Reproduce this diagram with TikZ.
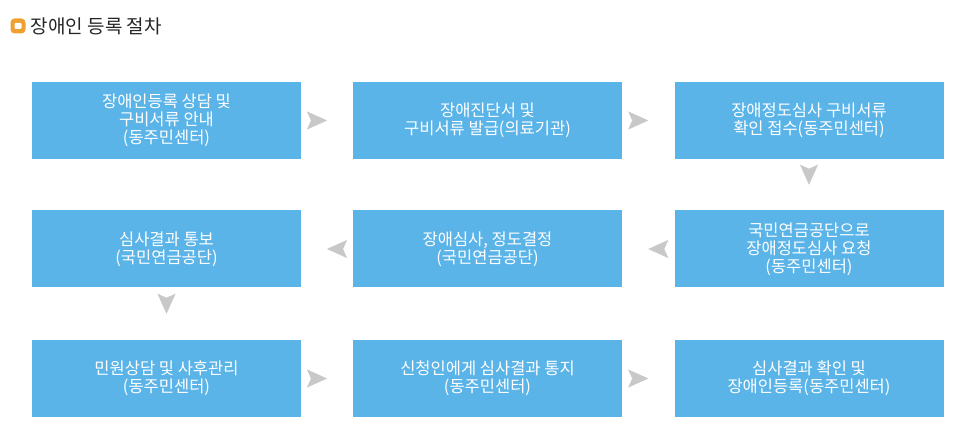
\documentclass[tikz,border=0pt]{standalone}
\usepackage{fontspec}
\setmainfont{Noto Sans CJK KR}
\usetikzlibrary{positioning, arrows.meta, decorations.markings}
\definecolor{boxblue}{HTML}{5BB4E8}
\definecolor{tipgray}{HTML}{C8C8C8}
\definecolor{iconorange}{HTML}{F0A030}
\tikzset{
  Step/.style={fill=boxblue, text=white, minimum width=269pt, minimum height=77pt,
    align=center, font=\fontsize{16.5pt}{18pt}\selectfont, inner sep=0pt},
  Next/.style={decoration={markings, mark=at position 0.5 with
    {\arrow[tipgray]{Stealth[length=20pt, width=18pt, inset=4pt]}}}, postaction=decorate}
}
\begin{document}
\begin{tikzpicture}[x=1pt, y=1pt]
  \useasboundingbox (0,0) rectangle (959,428);
  % title
  \node[fill=iconorange, rounded corners=4pt, minimum size=15pt, inner sep=0pt] (icon) at (18,402) {};
  \node[fill=white, rounded corners=1pt, minimum width=7pt, minimum height=6pt, inner sep=0pt] at (icon) {};
  \node[right=5pt of icon, font=\fontsize{19pt}{22pt}\selectfont, text=black!85, inner sep=0pt] (title) {장애인 등록 절차};
  % steps
  \node[Step] (s1) at (166.5,307.5) {장애인등록 상담 및\\구비서류 안내\\(동주민센터)};
  \node[Step] (s2) at (487.5,307.5) {장애진단서 및\\구비서류 발급(의료기관)};
  \node[Step] (s3) at (809,307.5) {장애정도심사 구비서류\\확인 접수(동주민센터)};
  \node[Step] (s4) at (809,179) {국민연금공단으로\\장애정도심사 요청\\(동주민센터)};
  \node[Step] (s5) at (487.5,179) {장애심사, 정도결정\\(국민연금공단)};
  \node[Step] (s6) at (166.5,179) {심사결과 통보\\(국민연금공단)};
  \node[Step] (s7) at (166.5,49.5) {민원상담 및 사후관리\\(동주민센터)};
  \node[Step] (s8) at (487.5,49.5) {신청인에게 심사결과 통지\\(동주민센터)};
  \node[Step] (s9) at (809,49.5) {심사결과 확인 및\\장애인등록(동주민센터)};
  % connectors
  \path[Next] (s1.east) -- (s2.west);
  \path[Next] (s2.east) -- (s3.west);
  \path[Next] (s3.south) -- (s4.north);
  \path[Next] (s4.west) -- (s5.east);
  \path[Next] (s5.west) -- (s6.east);
  \path[Next] (s6.south) -- (s7.north);
  \path[Next] (s7.east) -- (s8.west);
  \path[Next] (s8.east) -- (s9.west);
\end{tikzpicture}
\end{document}
